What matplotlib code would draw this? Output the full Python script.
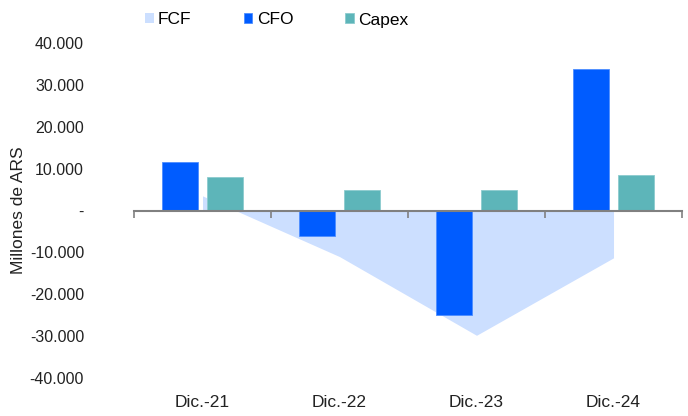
import numpy as np
import matplotlib.pyplot as plt
from matplotlib.ticker import FuncFormatter

plt.rcParams['font.family'] = ['Liberation Sans', 'DejaVu Sans']

periodos = ['Dic.-21', 'Dic.-22', 'Dic.-23', 'Dic.-24']
fcf = [3500, -11000, -29800, -11300]
cfo = [11600, -6000, -25000, 33700]
capex = [8100, 5000, 4850, 8600]

c_fcf = '#CCDFFF'
c_cfo = '#005CFF'
c_capex = '#5DB5B9'

x = np.arange(len(periodos))
ancho = 0.263
desp = 0.164

fig = plt.figure(figsize=(6.88, 4.16), dpi=100)
ax = fig.add_axes([0.1948, 0.0913, 0.7965, 0.8053])

ax.fill_between(x, fcf, 0, color=c_fcf, lw=0, zorder=1, label='FCF')
ax.bar(x - desp, cfo, ancho, color=c_cfo, edgecolor='#4D8DFF', lw=0.6, zorder=2, label='CFO')
ax.bar(x + desp, capex, ancho, color=c_capex, edgecolor='#8CCBCE', lw=0.6, zorder=2, label='Capex')

ax.set_xlim(-0.5, 3.5)
ax.set_ylim(-40000, 40000)
ax.set_yticks(np.arange(-40000, 40001, 10000))
ax.yaxis.set_major_formatter(FuncFormatter(
    lambda v, p: '-' if v == 0 else f'{v:,.0f}'.replace(',', '.')))
ax.tick_params(axis='y', length=0, pad=36, labelsize=11.5, labelcolor='#222222')

for s in ['top', 'right', 'left']:
    ax.spines[s].set_visible(False)
ax.spines['bottom'].set_position(('data', 0))
ax.spines['bottom'].set_color('#808080')
ax.spines['bottom'].set_linewidth(1.5)
ax.spines['bottom'].set_zorder(3)
ax.set_xticks(np.arange(-0.5, 3.6, 1.0))
ax.set_xticklabels([])
ax.tick_params(axis='x', length=5, width=1.2, color='#808080', direction='out')

sec = ax.secondary_xaxis('bottom')
sec.set_xticks(x, labels=periodos)
sec.spines['bottom'].set_visible(False)
sec.tick_params(length=0, pad=12, labelsize=12.5, labelcolor='#222222')

ax.set_ylabel('Millones de ARS', fontsize=12.5, color='#222222')
ax.yaxis.set_label_coords(-0.197, 0.5)

fig.legend(loc='center left', bbox_to_anchor=(145 / 688, 1 - 20 / 416), ncol=3,
           frameon=False, fontsize=12.5, handlelength=0.5, handleheight=0.5,
           handletextpad=0.25, columnspacing=3.0, borderaxespad=0, borderpad=0)

fig.savefig('out.png', dpi=100)
